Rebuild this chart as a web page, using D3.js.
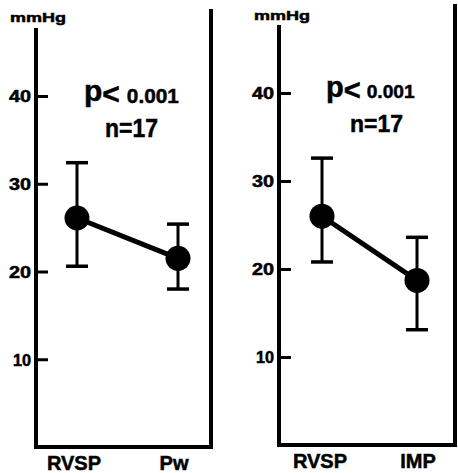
<!DOCTYPE html>
<html>
<head>
<meta charset="utf-8">
<script src="https://cdn.jsdelivr.net/npm/d3@7"></script>
<style>
  body { margin: 0; background: #fff; }
  svg text { font-family: "Liberation Sans", Arial, Helvetica, sans-serif; font-weight: bold; fill: #000; stroke: #000; stroke-width: 0.5px; }
</style>
</head>
<body>
<div id="chart"></div>
<script>
// data
var categoriesA = ["RVSP", "Pw"];
var meanA = [26.1, 21.5];
var upperA = [32.4, 25.4];
var lowerA = [20.6, 18.0];

var categoriesB = ["RVSP", "IMP"];
var meanB = [26.0, 18.7];
var upperB = [32.6, 23.6];
var lowerB = [20.8, 13.1];

var yTicks = [10, 20, 30, 40];
var pValue = "0.001";
var nText = "n=17";

var ctx = { w: 458, h: 473 };

// panel layout
var panels = [
  { cats: categoriesA, mean: meanA, up: upperA, lo: lowerA,
    x0: 36, x1: 211, y0: 447, y40: 96, axisTop: 28, rightTop: 9,
    xs: [77, 178], labDx: [-3, -4], labDy: 23,
    mmX: 10, mmY: 22,
    pX: 84, pY: 101, ltDy: 3, numDx: 7, numDy: -1, pSize: 30, numSize: 20, numLen: 52,
    nX: 131.5, nY: 137, nSize: 26, nLen: 53 },
  { cats: categoriesB, mean: meanB, up: upperB, lo: lowerB,
    x0: 279, x1: 455, y0: 445, y40: 93, axisTop: 25, rightTop: 4,
    xs: [322, 417], labDx: [-2, 1], labDy: 23,
    mmX: 254, mmY: 20,
    pX: 326, pY: 97, ltDy: 3, numDx: 6, numDy: -2, pSize: 29, numSize: 19, numLen: 48,
    nX: 376.5, nY: 132, nSize: 24, nLen: 53 }
];

var svg = d3.select("#chart").append("svg")
  .attr("width", ctx.w)
  .attr("height", ctx.h);

var drawPanel = function(p) {
  var g = svg.append("g");
  var y = d3.scaleLinear().domain([0, 40]).range([p.y0, p.y40]);
  var x = d3.scalePoint().domain(p.cats).range(p.xs);

  // frame: left axis, bottom, right border
  g.append("line")
    .attr("x1", p.x0).attr("x2", p.x0)
    .attr("y1", p.axisTop).attr("y2", p.y0 + 2)
    .attr("stroke", "#000").attr("stroke-width", 4);
  g.append("line")
    .attr("x1", p.x0).attr("x2", p.x1)
    .attr("y1", p.y0).attr("y2", p.y0)
    .attr("stroke", "#000").attr("stroke-width", 4);
  g.append("line")
    .attr("x1", p.x1).attr("x2", p.x1)
    .attr("y1", p.rightTop).attr("y2", p.y0 + 2)
    .attr("stroke", "#000").attr("stroke-width", 4);

  var axis = g.append("g")
    .attr("transform", "translate(" + p.x0 + ",0)")
    .call(d3.axisLeft(y).tickValues(yTicks).tickSize(-12).tickPadding(5));
  axis.select(".domain").remove();
  axis.selectAll(".tick line").attr("stroke", "#000").attr("stroke-width", 3);
  axis.selectAll(".tick text")
    .style("font-size", "16px")
    .attr("dy", "0.36em")
    .attr("textLength", function(d) { return d === 10 ? 18 : 22; })
    .attr("lengthAdjust", "spacingAndGlyphs")
    .attr("fill", "#000");

  g.append("text")
    .attr("x", p.mmX).attr("y", p.mmY)
    .style("font-size", "13px")
    .attr("textLength", 56)
    .attr("lengthAdjust", "spacingAndGlyphs")
    .text("mmHg");

  // error bars
  p.cats.forEach(function(c, i) {
    var cx = x(c);
    g.append("line")
      .attr("x1", cx).attr("x2", cx)
      .attr("y1", y(p.up[i])).attr("y2", y(p.lo[i]))
      .attr("stroke", "#000").attr("stroke-width", 3);
    [p.up[i], p.lo[i]].forEach(function(v) {
      g.append("line")
        .attr("x1", cx - 11).attr("x2", cx + 11)
        .attr("y1", y(v)).attr("y2", y(v))
        .attr("stroke", "#000").attr("stroke-width", 3.5);
    });
  });

  g.append("path")
    .datum(p.mean)
    .attr("d", d3.line()
      .x(function(d, i) { return x(p.cats[i]); })
      .y(function(d) { return y(d); }))
    .attr("fill", "none")
    .attr("stroke", "#000")
    .attr("stroke-width", 5);

  g.selectAll("circle")
    .data(p.mean)
    .enter()
    .append("circle")
    .attr("cx", function(d, i) { return x(p.cats[i]); })
    .attr("cy", function(d) { return y(d); })
    .attr("r", 12.5)
    .attr("fill", "#000");

  // category labels
  g.selectAll(".cat")
    .data(p.cats)
    .enter()
    .append("text")
    .attr("class", "cat")
    .attr("x", function(d, i) { return x(d) + p.labDx[i]; })
    .attr("y", p.y0 + p.labDy)
    .attr("text-anchor", "middle")
    .style("font-size", "20px")
    .text(function(d) { return d; });

  var pt = g.append("text")
    .attr("x", p.pX).attr("y", p.pY);
  pt.append("tspan").style("font-size", p.pSize + "px").text("p");
  pt.append("tspan").style("font-size", p.pSize + "px").attr("dy", p.ltDy).text("<");
  pt.append("tspan")
    .style("font-size", p.numSize + "px")
    .attr("dx", p.numDx).attr("dy", p.numDy)
    .attr("textLength", p.numLen)
    .attr("lengthAdjust", "spacingAndGlyphs")
    .text(pValue);

  g.append("text")
    .attr("x", p.nX - p.nLen / 2).attr("y", p.nY)
    .style("font-size", p.nSize + "px")
    .attr("textLength", p.nLen)
    .attr("lengthAdjust", "spacingAndGlyphs")
    .text(nText);
};

panels.forEach(drawPanel);
</script>
</body>
</html>
